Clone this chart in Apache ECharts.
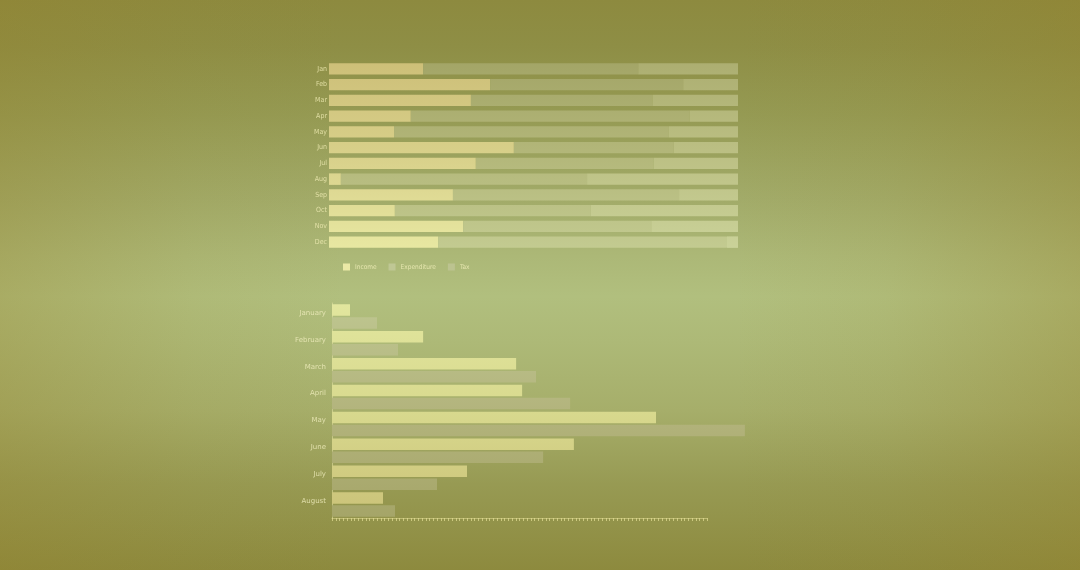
<!DOCTYPE html>
<html>
<head>
<meta charset="utf-8">
<script src="https://cdn.jsdelivr.net/npm/echarts@6/dist/echarts.min.js"></script>
<style>
  html, body { margin: 0; padding: 0; width: 1080px; height: 570px; overflow: hidden; }
  body {
    background:
      linear-gradient(to right, rgba(150,128,40,0.30) 0%, rgba(150,128,40,0.08) 18%, rgba(150,128,40,0) 32%,
                      rgba(150,128,40,0) 68%, rgba(150,128,40,0.08) 82%, rgba(150,128,40,0.32) 100%),
      linear-gradient(to bottom, #8d8a3f 0%, #8e8e45 8%, #959a53 20%, #a2ab69 35%, #acb877 45%,
                      #b1bf7e 52%, #adb977 60%, #a6ae6a 72%, #979a53 85%, #8d8a3e 100%);
  }
  #chart { width: 1080px; height: 570px; }
</style>
</head>
<body>
<div id="chart"></div>
<script>
// ---- data ----
const topMonths = ['Jan', 'Feb', 'Mar', 'Apr', 'May', 'Jun', 'Jul', 'Aug', 'Sep', 'Oct', 'Nov', 'Dec'];
const income      = [23.0, 39.4, 34.7, 20.0, 15.9, 45.2, 35.9, 2.9, 30.3, 16.1, 32.8, 26.7];
const expenditure = [52.6, 47.2, 44.5, 68.2, 67.2, 39.1, 43.5, 60.2, 55.3, 47.9, 46.0, 70.6];
const tax         = [24.4, 13.4, 20.8, 11.8, 16.9, 15.7, 20.6, 36.9, 14.4, 36.0, 21.2, 2.7];
const legendNames = ['Income', 'Expenditure', 'Tax'];

const bottomMonths = ['January', 'February', 'March', 'April', 'May', 'June', 'July', 'August'];
const monthlyA = [4.8, 24.3, 49.1, 50.7, 86.4, 64.5, 36.0, 13.6];
const monthlyB = [12.0, 17.6, 54.4, 63.5, 110.1, 56.3, 28.0, 16.8];

// ---- styles ----
const narrow = "'Liberation Sans Narrow', 'DejaVu Sans Condensed', sans-serif";
function vgrad(y1, y2, stops) {
  return {
    type: 'linear', x: 0, y: y1, x2: 0, y2: y2, global: true,
    colorStops: stops.map((c, i) => ({ offset: i / (stops.length - 1), color: c }))
  };
}
const cIncome = vgrad(61, 250, ['#cdbf78', '#d8d08a', '#e8e8a2']);
const cExp    = vgrad(61, 250, ['#a3a567', '#b3b77a', '#c3cb91']);
const cTax    = vgrad(61, 250, ['#acae71', '#bcc084', '#cad299']);
const cA      = vgrad(303, 518, ['#e2e69e', '#d8d98e', '#cbc278']);
const cB      = vgrad(303, 518, ['#bec690', '#b3b47d', '#a5a568']);

const chart = echarts.init(document.getElementById('chart'), null, { renderer: 'canvas' });
chart.setOption({
  backgroundColor: 'transparent',
  animation: false,
  legend: {
    data: [
      { name: legendNames[0], itemStyle: { color: '#ebe9a6' } },
      { name: legendNames[1], itemStyle: { color: '#bfc794' } },
      { name: legendNames[2], itemStyle: { color: '#bcc390' } }
    ],
    left: 343, top: 263.5, padding: 0,
    itemWidth: 7, itemHeight: 7, itemGap: 12,
    icon: 'rect',
    textStyle: { color: 'rgba(240,238,185,0.85)', fontSize: 6.5, fontFamily: narrow }
  },
  grid: [
    { left: 329, right: 342, top: 61, bottom: 320 },
    { left: 332, right: 373, top: 303, bottom: 52 }
  ],
  xAxis: [
    { gridIndex: 0, type: 'value', min: 0, max: 100, show: false },
    {
      gridIndex: 1, type: 'value', min: 0, max: 100, interval: 1,
      axisLine: { show: true, lineStyle: { color: 'rgba(225,220,150,0.55)', width: 1 } },
      axisTick: { show: true, length: 3, lineStyle: { color: 'rgba(228,222,150,0.7)', width: 1 } },
      axisLabel: { show: false },
      splitLine: { show: false }
    }
  ],
  yAxis: [
    {
      gridIndex: 0, type: 'category', data: topMonths, inverse: true,
      axisLine: { show: false }, axisTick: { show: false },
      axisLabel: { margin: 2, fontSize: 7, color: 'rgba(240,236,180,0.8)', fontFamily: narrow }
    },
    {
      gridIndex: 1, type: 'category', data: bottomMonths, inverse: true,
      axisLine: { show: true, lineStyle: { color: 'rgba(230,228,165,0.55)', width: 1 } },
      axisTick: { show: false },
      axisLabel: {
        margin: 6, fontSize: 7, color: 'rgba(240,238,190,0.8)',
        fontFamily: "'DejaVu Sans', sans-serif", verticalAlign: 'bottom', lineHeight: 7
      }
    }
  ],
  series: [
    { name: 'Income', type: 'bar', stack: 'total', xAxisIndex: 0, yAxisIndex: 0,
      data: income, barCategoryGap: '27%', itemStyle: { color: cIncome }, emphasis: { disabled: true } },
    { name: 'Expenditure', type: 'bar', stack: 'total', xAxisIndex: 0, yAxisIndex: 0,
      data: expenditure, barCategoryGap: '27%', itemStyle: { color: cExp }, emphasis: { disabled: true } },
    { name: 'Tax', type: 'bar', stack: 'total', xAxisIndex: 0, yAxisIndex: 0,
      data: tax, barCategoryGap: '27%', itemStyle: { color: cTax }, emphasis: { disabled: true } },
    { name: 'Monthly A', type: 'bar', xAxisIndex: 1, yAxisIndex: 1, clip: false,
      data: monthlyA, barWidth: 11.5, barGap: '12%', itemStyle: { color: cA }, emphasis: { disabled: true } },
    { name: 'Monthly B', type: 'bar', xAxisIndex: 1, yAxisIndex: 1, clip: false,
      data: monthlyB, barWidth: 11.5, barGap: '12%', itemStyle: { color: cB }, emphasis: { disabled: true } }
  ]
});
</script>
</body>
</html>
